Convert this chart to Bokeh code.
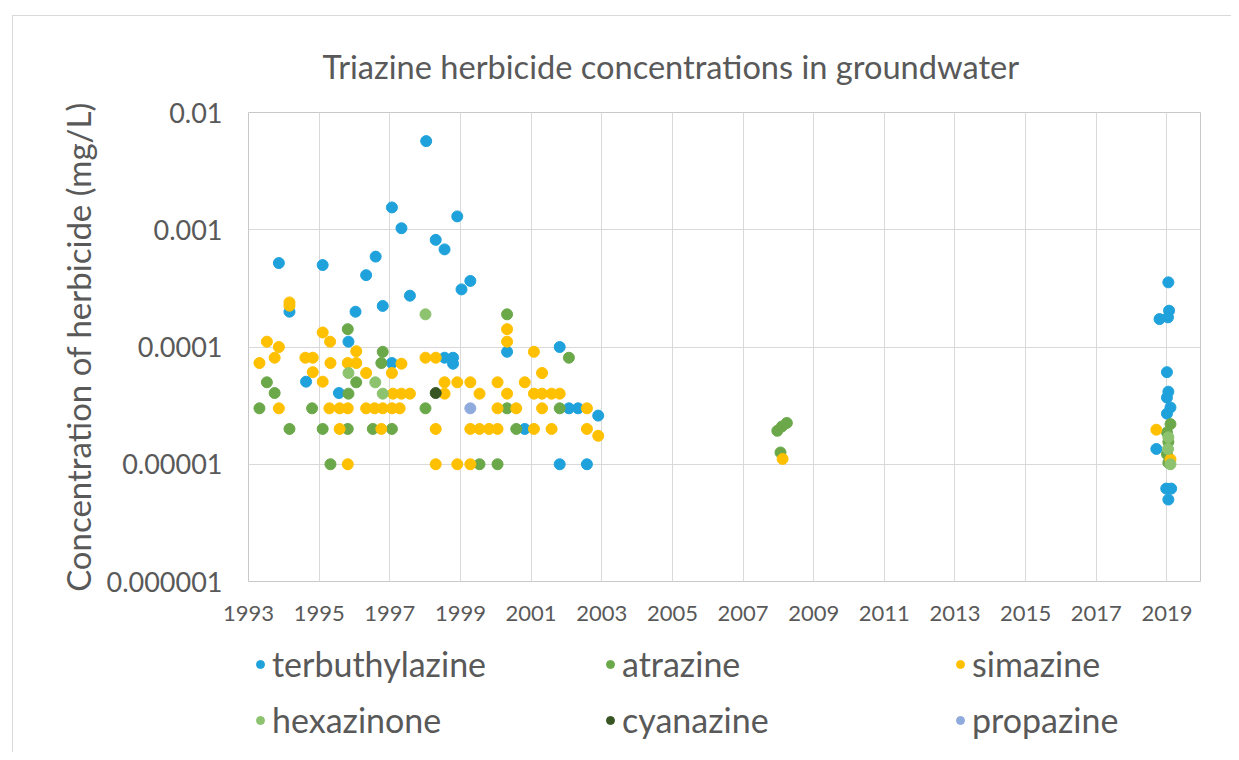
from bokeh.plotting import figure
from bokeh.layouts import column
from bokeh.models import (FixedTicker, Legend, LegendItem, Title, Range1d,
                          CustomJSTickFormatter, InlineStyleSheet)
from bokeh.embed import file_html
from bokeh.resources import INLINE

FONT = "Lato"
TEXT = "#595959"

title_text = "Triazine herbicide concentrations in groundwater"
y_label = "Concentration of herbicide (mg/L)"
x_ticks = [1993, 1995, 1997, 1999, 2001, 2003, 2005, 2007, 2009, 2011, 2013, 2015, 2017, 2019]
y_ticks = [0.000001, 0.00001, 0.0001, 0.001, 0.01]

series_names = ["terbuthylazine", "atrazine", "simazine", "hexazinone", "cyanazine", "propazine"]
series_colors = ["#1FA2DC", "#6BA84A", "#FFC000", "#8DC26F", "#375623", "#8FAADC"]

terb_year = [1993.86, 1994.16, 1994.63, 1995.10, 1995.56, 1995.83, 1996.03, 1996.33, 1996.60,
             1996.80, 1997.06, 1997.06, 1997.33, 1997.57, 1998.03, 1998.30, 1998.55, 1998.55,
             1998.79, 1998.79, 1998.91, 1999.03, 1999.28, 2000.32, 2000.82, 2001.81, 2001.81,
             2002.07, 2002.33, 2002.58, 2002.90, 2018.79, 2018.70, 2019.00, 2019.00, 2019.00,
             2019.03, 2019.04, 2019.04, 2019.06, 2019.10, 2018.98, 2019.12, 2019.04]
terb_conc = [0.00052, 0.0002, 0.0000506, 0.0005, 0.0000405, 0.000111, 0.0002, 0.00041, 0.00059,
             0.000224, 0.00155, 0.000073, 0.00103, 0.000274, 0.0057, 0.00082, 0.00068, 0.000081,
             0.000081, 0.000072, 0.0013, 0.00031, 0.000366, 0.000091, 0.00002, 0.0001, 0.00001,
             0.00003, 0.00003, 0.00001, 0.000026, 0.000173, 0.0000135, 0.000061, 0.000037, 0.000027,
             0.000179, 0.000356, 0.0000416, 0.000204, 0.0000305, 0.0000062, 0.0000062, 0.000005]

atra_year = [1993.31, 1993.52, 1993.74, 1994.16, 1994.80, 1995.10, 1995.32, 1995.81, 1995.81,
             1995.83, 1996.05, 1996.52, 1996.76, 1996.80, 1997.06, 1998.01, 2000.32, 2000.32,
             2000.58, 1999.54, 2000.05, 2001.81, 2002.07, 2007.97, 2008.10, 2008.24, 2008.06,
             2019.10, 2019.00, 2019.04, 2019.00, 2019.04]
atra_conc = [0.00003, 0.00005, 0.0000405, 0.00002, 0.00003, 0.00002, 0.00001, 0.000142, 0.00002,
             0.00004, 0.00005, 0.00002, 0.000073, 0.000091, 0.00002, 0.00003, 0.00019, 0.00003,
             0.00002, 0.00001, 0.00001, 0.00003, 0.000081, 0.0000193, 0.000021, 0.0000225, 0.0000126,
             0.000022, 0.0000187, 0.0000155, 0.0000122, 0.0000103]

sima_year = [1993.31, 1993.52, 1993.74, 1993.86, 1993.86, 1994.16, 1994.16, 1994.61, 1994.82,
             1994.82, 1995.10, 1995.10, 1995.29, 1995.31, 1995.32, 1995.58, 1995.58, 1995.81,
             1995.81, 1995.81, 1996.05, 1996.05, 1996.33, 1996.33, 1996.57, 1996.76, 1996.80,
             1997.06, 1997.06, 1997.09, 1997.28, 1997.33, 1997.33, 1997.57, 1998.01, 1998.30,
             1998.30, 1998.30, 1998.55, 1998.55, 1998.91, 1998.91, 1999.28, 1999.28, 1999.28,
             1999.54, 1999.54, 1999.81, 2000.05, 2000.05, 2000.05, 2000.32, 2000.32, 2000.32,
             2000.58, 2000.82, 2001.08, 2001.08, 2001.08, 2001.31, 2001.31, 2001.31, 2001.58,
             2001.58, 2001.81, 2002.58, 2002.58, 2002.90, 2008.12, 2018.70, 2019.10]
sima_conc = [0.000073, 0.000111, 0.000081, 0.0001, 0.00003, 0.00024, 0.000225, 0.000081, 0.000081,
             0.000061, 0.000133, 0.0000506, 0.00003, 0.000111, 0.000073, 0.00003, 0.00002, 0.000073,
             0.00003, 0.00001, 0.000092, 0.000073, 0.00006, 0.00003, 0.00003, 0.00002, 0.00003,
             0.00006, 0.00003, 0.00004, 0.00003, 0.000072, 0.00004, 0.00004, 0.000081, 0.000081,
             0.00002, 0.00001, 0.00005, 0.00004, 0.00005, 0.00001, 0.00005, 0.00002, 0.00001,
             0.00004, 0.00002, 0.00002, 0.00005, 0.00003, 0.00002, 0.000142, 0.000111, 0.00004,
             0.00003, 0.00005, 0.000091, 0.00004, 0.00002, 0.00006, 0.00004, 0.00003, 0.00004,
             0.00002, 0.00004, 0.00003, 0.00002, 0.0000175, 0.0000111, 0.0000197, 0.000011]

hexa_year = [1995.83, 1996.59, 1996.80, 1998.01, 2019.04, 2019.03, 2019.10]
hexa_conc = [0.00006, 0.00005, 0.00004, 0.00019, 0.000017, 0.0000135, 0.00001]

cyan_year = [1998.30]
cyan_conc = [0.0000405]

prop_year = [1999.28]
prop_conc = [0.00003]

all_years = [terb_year, atra_year, sima_year, hexa_year, cyan_year, prop_year]
all_concs = [terb_conc, atra_conc, sima_conc, hexa_conc, cyan_conc, prop_conc]

# ---------------- main chart ----------------
p = figure(frame_width=952, frame_height=469, y_axis_type="log",
           x_range=Range1d(1993, 2019.95), y_range=Range1d(0.000001, 0.01),
           output_backend="svg", toolbar_location=None,
           min_border_left=248, min_border_right=31, min_border_top=112, min_border_bottom=55)
p.background_fill_color = "white"
p.border_fill_color = None
p.outline_line_color = "#c8c8c8"
p.outline_line_width = 1

for yrs, vals, col in zip(all_years, all_concs, series_colors):
    p.scatter(yrs, vals, size=11, fill_color=col, line_color=col, line_width=1)

p.xgrid.grid_line_color = "#d9d9d9"
p.ygrid.grid_line_color = "#d9d9d9"
p.xaxis.ticker = FixedTicker(ticks=x_ticks, minor_ticks=[])
p.yaxis.ticker = FixedTicker(ticks=y_ticks, minor_ticks=[])
p.yaxis.formatter = CustomJSTickFormatter(
    code="const d = Math.round(-Math.log10(tick)); return tick.toFixed(d);")

for ax in (p.xaxis[0], p.yaxis[0]):
    ax.axis_line_color = None
    ax.major_tick_line_color = None
    ax.minor_tick_line_color = None
    ax.major_tick_out = 0
    ax.major_tick_in = 0
    ax.minor_tick_out = 0
    ax.major_label_text_font = FONT
    ax.major_label_text_color = TEXT

p.xaxis.major_label_text_font_size = "22px"
p.xaxis.major_label_standoff = 24
p.yaxis.major_label_text_font_size = "27px"
p.yaxis.major_label_standoff = 26
p.yaxis.axis_label = y_label
p.yaxis.axis_label_text_font = FONT
p.yaxis.axis_label_text_font_size = "33px"
p.yaxis.axis_label_text_font_style = "normal"
p.yaxis.axis_label_text_color = TEXT
p.yaxis.axis_label_standoff = 6

p.title = Title(text=title_text, align="left", offset=74, standoff=53,
                text_font=FONT, text_font_size="32.6px", text_font_style="normal",
                text_color=TEXT)

# ---------------- legend strip (frame aligned with the chart above) ----------------
lg = figure(width=1231, height=116, x_range=Range1d(0, 1), y_range=Range1d(0, 1),
            output_backend="svg", toolbar_location=None,
            min_border_left=0, min_border_right=0, min_border_top=0, min_border_bottom=0)
lg.axis.visible = False
lg.grid.visible = False
lg.outline_line_color = None
lg.background_fill_color = None
lg.border_fill_color = None

# same series, drawn on a 0..1 range so only their legend glyphs show here
leg_renderers = [lg.scatter(yrs, vals, size=11, fill_color=col, line_color=col)
                 for yrs, vals, col in zip(all_years, all_concs, series_colors)]
items = [LegendItem(label=name, renderers=[r]) for name, r in zip(series_names, leg_renderers)]
leg = Legend(items=items, location=(2, 12), orientation="horizontal", ncols=3,
             border_line_color=None, background_fill_alpha=0, padding=0, margin=0,
             spacing=15, glyph_width=20, glyph_height=20, label_height=30,
             label_width=313, label_standoff=2, label_text_font=FONT,
             label_text_font_size="34px", label_text_color=TEXT)
lg.add_layout(leg)

frame_css = InlineStyleSheet(css="""
:host::after {
  content: '';
  position: absolute;
  left: 12px; top: 15px; right: 0px; bottom: 0px;
  border-left: 1px solid #d9d9d9;
  border-top: 1px solid #d9d9d9;
  pointer-events: none;
}
""")

layout = column(p, lg, spacing=0, stylesheets=[frame_css])
open("out.html", "w").write(file_html(layout, INLINE))
